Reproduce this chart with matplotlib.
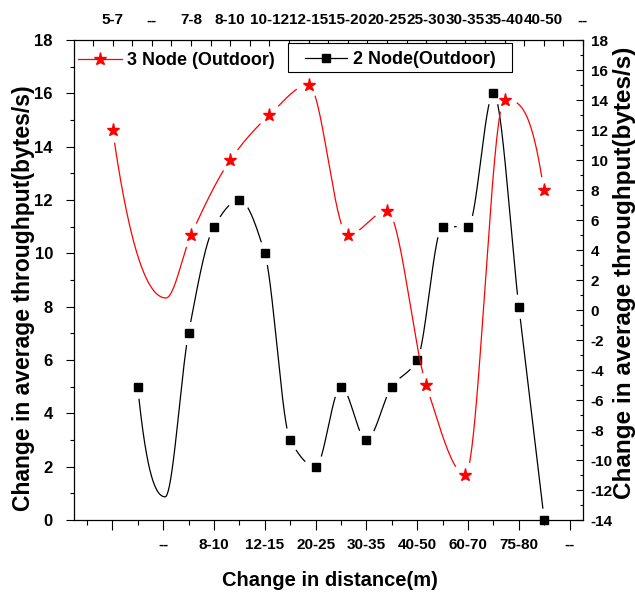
"""
Throughput change vs. distance for the 2-node and 3-node outdoor runs.
Two overlaid axes: bottom/left for 2 nodes, top/right for 3 nodes.
"""

import numpy as np
import matplotlib

matplotlib.use("Agg")
import matplotlib.pyplot as plt
from matplotlib.lines import Line2D
from matplotlib.patches import Rectangle
from matplotlib.ticker import FixedLocator, MultipleLocator


# ---------------------------------------------------------------------------
# Data
# ---------------------------------------------------------------------------

bottom_labels = ["", "--", "8-10", "12-15", "20-25", "30-35", "40-50", "60-70", "75-80", "--"]
top_labels = ["5-7", "--", "7-8", "8-10", "10-12", "12-15", "15-20",
              "20-25", "25-30", "30-35", "35-40", "40-50", "--"]

# 2 Node (Outdoor): bottom x slots, left y axis
node2_x = [1, 3, 4, 5, 6, 7, 8, 9, 10, 11, 12, 13, 14, 15, 16, 17]
node2_y = [5, 7, 11, 12, 10, 3, 2, 5, 3, 5, 6, 11, 11, 16, 8, 0]
# lowest point of the curve across the "--" slot (no marker there)
node2_dip = (2.08, 0.87)

# 3 Node (Outdoor): top x slots, right y axis
node3_x = [0, 2, 3, 4, 5, 6, 7, 8, 9, 10, 11]
node3_y = [12, 5, 10, 13, 15, 5, 6.6, -5, -11, 14, 8]
node3_dip = (1.36, 0.8)

FONT = "Liberation Sans"


# ---------------------------------------------------------------------------
# Curve helpers
# ---------------------------------------------------------------------------

def pchip(x, y, xs):
    """Monotone piecewise cubic (Fritsch-Carlson) through the points."""
    x = np.asarray(x, float)
    y = np.asarray(y, float)
    h = np.diff(x)
    d = np.diff(y) / h
    n = len(x)
    m = np.zeros(n)
    for k in range(1, n - 1):
        if d[k - 1] * d[k] > 0:
            w1 = 2 * h[k] + h[k - 1]
            w2 = h[k] + 2 * h[k - 1]
            m[k] = (w1 + w2) / (w1 / d[k - 1] + w2 / d[k])

    def end(h0, h1, d0, d1):
        s = ((2 * h0 + h1) * d0 - h0 * d1) / (h0 + h1)
        if np.sign(s) != np.sign(d0):
            return 0.0
        if np.sign(d0) != np.sign(d1) and abs(s) > 3 * abs(d0):
            return 3 * d0
        return s

    m[0] = end(h[0], h[1], d[0], d[1])
    m[-1] = end(h[-1], h[-2], d[-1], d[-2])

    idx = np.clip(np.searchsorted(x, xs) - 1, 0, n - 2)
    t = (xs - x[idx]) / h[idx]
    h00 = 2 * t**3 - 3 * t**2 + 1
    h10 = t**3 - 2 * t**2 + t
    h01 = -2 * t**3 + 3 * t**2
    h11 = t**3 - t**2
    return (h00 * y[idx] + h10 * h[idx] * m[idx]
            + h01 * y[idx + 1] + h11 * h[idx] * m[idx + 1])


def smooth_curve(x, y, dip):
    kx = np.array(list(x) + [dip[0]])
    ky = np.array(list(y) + [dip[1]])
    order = np.argsort(kx)
    kx, ky = kx[order], ky[order]
    xs = np.linspace(kx[0], kx[-1], 4000)
    return xs, pchip(kx, ky, xs)


def gap_near_markers(ax, xs, ys, mx, my, radius):
    """Blank out the line within `radius` pixels of each marker."""
    pts = ax.transData.transform(np.column_stack([xs, ys]))
    marks = ax.transData.transform(np.column_stack([mx, my]))
    dist = np.hypot(pts[:, None, 0] - marks[None, :, 0],
                    pts[:, None, 1] - marks[None, :, 1]).min(axis=1)
    return np.where(dist < radius, np.nan, ys)


# ---------------------------------------------------------------------------
# Figure
# ---------------------------------------------------------------------------

W, H = 635, 594
fig = plt.figure(figsize=(W / 100, H / 100), dpi=100)
rect = [73.5 / W, 1 - 520 / H, 509.4 / W, 480 / H]

ax = fig.add_axes(rect)
axr = fig.add_axes(rect, facecolor="none")
axr.set_frame_on(False)

ax.set_xlim(-1.527, 18.52)
ax.set_ylim(0, 18)
axr.set_xlim(-1, 12)
axr.set_ylim(-14, 18)

for sp in ax.spines.values():
    sp.set_linewidth(0.9)

tick_font = dict(fontfamily=FONT, fontweight="bold", fontsize=11)

# bottom / left
ax.xaxis.set_major_locator(FixedLocator(np.arange(0, 19, 2)))
ax.xaxis.set_minor_locator(FixedLocator(np.arange(-1, 19, 2)))
ax.set_xticklabels(bottom_labels, **tick_font)
ax.set_yticks(np.arange(0, 19, 2))
ax.yaxis.set_minor_locator(MultipleLocator(1))
ax.set_yticklabels([str(v) for v in range(0, 19, 2)], fontsize=12,
                   fontfamily=FONT, fontweight="bold")
ax.tick_params(axis="x", which="major", direction="out", length=7, width=0.8, pad=6)
ax.tick_params(axis="x", which="minor", direction="out", length=3.6, width=0.8)
ax.tick_params(axis="y", which="major", direction="out", length=5.8, width=0.8, pad=9)
ax.tick_params(axis="y", which="minor", direction="out", length=3, width=0.8)

# top / right
axr.xaxis.tick_top()
axr.yaxis.tick_right()
axr.xaxis.set_major_locator(FixedLocator(np.arange(0, 13)))
axr.xaxis.set_minor_locator(FixedLocator(np.arange(-0.5, 12, 1)))
axr.set_xticklabels(top_labels, **tick_font)
axr.set_yticks(np.arange(-14, 19, 2))
axr.yaxis.set_minor_locator(MultipleLocator(1))
axr.set_yticklabels([str(v) for v in range(-14, 19, 2)], **tick_font)
axr.tick_params(axis="x", which="major", direction="in", length=4, width=0.8, pad=9)
axr.tick_params(axis="x", which="minor", direction="in", length=4, width=0.8)
axr.tick_params(axis="y", which="major", direction="in", length=5, width=0.8, pad=5.5)
axr.tick_params(axis="y", which="minor", direction="in", length=2.5, width=0.8)

# 2 Node series
xs, ys = smooth_curve(node2_x, node2_y, node2_dip)
ys = gap_near_markers(ax, xs, ys, node2_x, node2_y, 12)
ax.plot(xs, ys, color="black", lw=0.9)
ax.plot(node2_x, node2_y, ls="none", marker="s", ms=6, color="black", clip_on=False)

# 3 Node series
xs, ys = smooth_curve(node3_x, node3_y, node3_dip)
ys = gap_near_markers(axr, xs, ys, node3_x, node3_y, 13)
axr.plot(xs, ys, color="red", lw=0.9)
axr.plot(node3_x, node3_y, ls="none", marker="*", ms=9.5, color="red", clip_on=False)

# axis titles
label_font = dict(fontfamily=FONT, fontweight="bold")
fig.text(330 / W, 1 - 580 / H, "Change in distance(m)", ha="center", va="center",
         fontsize=14.5, **label_font)
fig.text(24 / W, 1 - 298 / H, "Change in average throughput(bytes/s)", rotation=90,
         ha="center", va="center", fontsize=16.5, **label_font)
fig.text(625 / W, 1 - 273 / H, "Change in average throughput(bytes/s)", rotation=90,
         ha="center", va="center", fontsize=17.5, **label_font)

# legends
leg_font = dict(family=FONT, weight="bold", size=13)
red_handle = Line2D([], [], color="red", lw=0.9, marker="*", ms=9.5)
black_handle = Line2D([], [], color="black", lw=0.9, marker="s", ms=6)

leg1 = axr.legend([red_handle], ["3 Node (Outdoor)"], loc="center left",
                  bbox_to_anchor=(78 / W, 1 - 60.5 / H), bbox_transform=fig.transFigure,
                  frameon=False, borderpad=0, borderaxespad=0, prop=leg_font,
                  handlelength=2.45, handletextpad=0.27)
axr.add_artist(leg1)
axr.add_patch(Rectangle((288 / W, 1 - 72 / H), 224 / W, 29 / H, transform=fig.transFigure,
                        facecolor="white", edgecolor="black", lw=0.8, zorder=4, clip_on=False))
axr.legend([black_handle], ["2 Node(Outdoor)"], loc="center left",
           bbox_to_anchor=(305 / W, 1 - 59.5 / H), bbox_transform=fig.transFigure,
           frameon=False, borderpad=0, borderaxespad=0, prop=leg_font,
           handlelength=2.35, handletextpad=0.33)

fig.savefig("out.png", dpi=100)
